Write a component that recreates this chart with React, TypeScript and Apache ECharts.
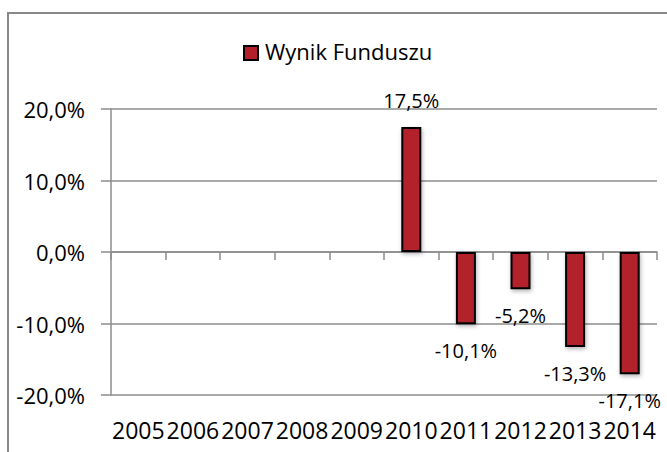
import React, { useEffect, useRef } from "react";
import * as echarts from "echarts";

const years = ["2005", "2006", "2007", "2008", "2009", "2010", "2011", "2012", "2013", "2014"];
const fundResult: (number | null)[] = [null, null, null, null, null, 17.5, -10.1, -5.2, -13.3, -17.1];
const seriesName = "Wynik Funduszu";

const FONT = "'Open Sans', sans-serif";
const BAR_COLOR = "#B3202A";
const fmt = (v: number) => v.toFixed(1).replace(".", ",") + "%";

export default function App() {
  const ref = useRef<HTMLDivElement>(null);
  useEffect(() => {
    if (!ref.current) return;
    const chart = echarts.init(ref.current, null, { renderer: "svg" });
    const data = fundResult.map((v) =>
      v === null
        ? "-"
        : {
            value: v,
            label: { position: v < 0 ? "bottom" : "top" },
          }
    );
    chart.setOption({
      animation: false,
      backgroundColor: "#fff",
      textStyle: { fontFamily: FONT },
      graphic: [
        {
          type: "rect",
          z: 100,
          shape: { x: 8, y: 13, width: 700, height: 500 },
          style: { fill: "none", stroke: "#888888", lineWidth: 2 },
          silent: true,
        },
        {
          type: "rect",
          z: 100,
          shape: { x: 244, y: 46, width: 14, height: 14 },
          style: { fill: BAR_COLOR, stroke: "#000", lineWidth: 2 },
          silent: true,
        },
      ],
      legend: {
        data: [seriesName],
        left: 243,
        top: 40,
        padding: 0,
        icon: "rect",
        itemWidth: 16,
        itemHeight: 16,
        itemStyle: { opacity: 0 },
        textStyle: { fontSize: 22, color: "#000", fontFamily: FONT },
      },
      grid: { left: 111, right: 10, top: 109, bottom: 57 },
      xAxis: [
        {
          type: "category",
          data: years,
          position: "bottom",
          axisLine: { onZero: true, lineStyle: { color: "#8c8c8c", width: 1.5 } },
          axisTick: { show: true, length: 8, lineStyle: { color: "#8c8c8c", width: 1.5 } },
          axisLabel: { show: false },
          splitLine: { show: false },
        },
        {
          type: "category",
          data: years,
          position: "bottom",
          axisLine: { show: false, onZero: false },
          axisTick: { show: false },
          axisLabel: { interval: 0, fontSize: 23, color: "#000", margin: 23, fontFamily: FONT },
          splitLine: { show: false },
        },
      ],
      yAxis: {
        type: "value",
        min: -20,
        max: 20,
        interval: 10,
        axisLine: { show: true, lineStyle: { color: "#8c8c8c", width: 1.5 } },
        axisTick: { show: true, length: 10, lineStyle: { color: "#8c8c8c", width: 1.5 } },
        axisLabel: { fontSize: 22, color: "#000", margin: 26, fontFamily: FONT, formatter: (v: number) => fmt(v) },
        splitLine: { show: true, lineStyle: { color: "#8c8c8c", width: 1.5 } },
      },
      series: [
        {
          name: seriesName,
          type: "bar",
          xAxisIndex: 0,
          data,
          barWidth: 20,
          itemStyle: {
            color: BAR_COLOR,
            borderColor: "#000",
            borderWidth: 2,
            shadowBlur: 4,
            shadowColor: "rgba(0,0,0,0.3)",
            shadowOffsetX: 1,
            shadowOffsetY: 2,
          },
          label: {
            show: true,
            distance: 16,
            fontSize: 20,
            color: "#000",
            fontFamily: FONT,
            formatter: (p: any) => fmt(p.value),
          },
        },
      ],
    });
    return () => chart.dispose();
  }, []);
  return <div ref={ref} style={{ position: "fixed", left: 0, top: 0, width: 667, height: 452 }} />;
}
